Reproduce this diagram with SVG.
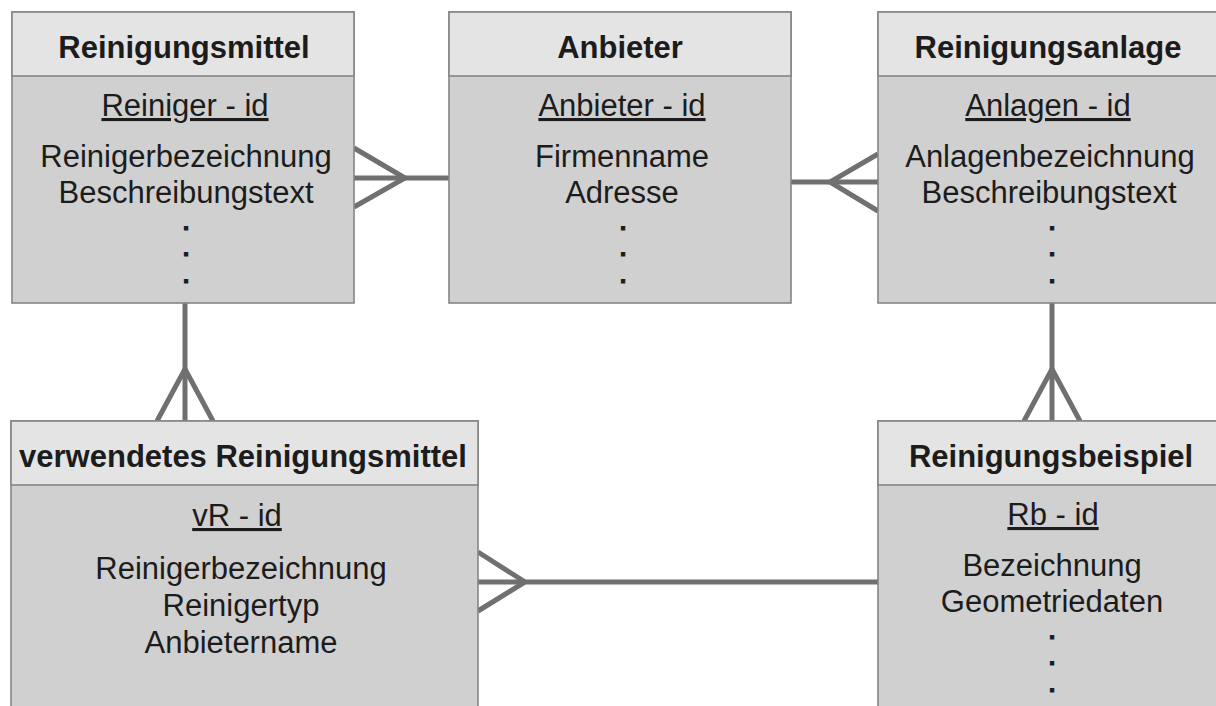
<svg xmlns="http://www.w3.org/2000/svg" width="1216" height="706" viewBox="0 0 1216 706">
  <style>
    .frame { fill: #d0d0d0; stroke: #858585; stroke-width: 1.6; }
    .head { fill: #e4e4e4; stroke: #858585; stroke-width: 1.6; }
    .title { font-family: "Liberation Sans", Arial, sans-serif; font-size: 31px; font-weight: bold; fill: #1c1c1c; text-anchor: middle; }
    .attr { font-family: "Liberation Sans", Arial, sans-serif; font-size: 31px; fill: #1c1c1c; text-anchor: middle; }
    .key { text-decoration: underline; }
    /* ellipsis dots: small bold period, thickened with a stroke */
    .dot { font-family: "Liberation Sans", Arial, sans-serif; font-size: 22px; font-weight: bold; fill: #1c1c1c; stroke: #1c1c1c; stroke-width: 1.2; text-anchor: middle; }
    .rel { stroke: #707070; stroke-width: 5; fill: none; }
  </style>

  <rect width="1216" height="706" fill="#ffffff"/>

  <!-- relationships (crow's foot = many side) -->
  <g id="connectors">
    <line class="rel" x1="354" y1="178" x2="449" y2="178"/>
    <polyline class="rel" points="354,148 405,178 354,207"/>

    <line class="rel" x1="791" y1="182" x2="878" y2="182"/>
    <polyline class="rel" points="878,154 830,182 878,211"/>

    <line class="rel" x1="185" y1="303" x2="185" y2="421"/>
    <polyline class="rel" points="157,421 185,369 213,421"/>

    <line class="rel" x1="1052" y1="303" x2="1052" y2="421"/>
    <polyline class="rel" points="1024,421 1052,369 1080,421"/>

    <line class="rel" x1="478" y1="582" x2="878" y2="582"/>
    <polyline class="rel" points="478,552 525,582 478,611"/>
  </g>

  <g id="reinigungsmittel">
    <rect class="frame" x="12" y="12" width="342" height="291"/>
    <rect class="head" x="12" y="12" width="342" height="64"/>
    <text class="title" x="184" y="58">Reinigungsmittel</text>
    <text class="attr key" x="185" y="116">Reiniger - id</text>
    <text class="attr" x="186" y="167">Reinigerbezeichnung</text>
    <text class="attr" x="186" y="203">Beschreibungstext</text>
    <text class="dot" x="186" y="230">.<tspan x="186" dy="26">.</tspan><tspan x="186" dy="27">.</tspan></text>
  </g>

  <g id="anbieter">
    <rect class="frame" x="449" y="12" width="342" height="291"/>
    <rect class="head" x="449" y="12" width="342" height="64"/>
    <text class="title" x="620" y="58">Anbieter</text>
    <text class="attr key" x="622" y="116">Anbieter - id</text>
    <text class="attr" x="622" y="167">Firmenname</text>
    <text class="attr" x="622" y="203">Adresse</text>
    <text class="dot" x="623" y="230">.<tspan x="623" dy="26">.</tspan><tspan x="623" dy="27">.</tspan></text>
  </g>

  <g id="reinigungsanlage">
    <rect class="frame" x="878" y="12" width="344" height="291"/>
    <rect class="head" x="878" y="12" width="344" height="64"/>
    <text class="title" x="1048" y="58">Reinigungsanlage</text>
    <text class="attr key" x="1048" y="116">Anlagen - id</text>
    <text class="attr" x="1050" y="167">Anlagenbezeichnung</text>
    <text class="attr" x="1049" y="203">Beschreibungstext</text>
    <text class="dot" x="1052" y="230">.<tspan x="1052" dy="26">.</tspan><tspan x="1052" dy="27">.</tspan></text>
  </g>

  <g id="verwendetes-reinigungsmittel">
    <rect class="frame" x="11" y="421" width="467" height="300"/>
    <rect class="head" x="11" y="421" width="467" height="64"/>
    <text class="title" x="243" y="467">verwendetes Reinigungsmittel</text>
    <text class="attr key" x="237" y="526">vR - id</text>
    <text class="attr" x="241" y="579">Reinigerbezeichnung</text>
    <text class="attr" x="241" y="616">Reinigertyp</text>
    <text class="attr" x="241" y="653">Anbietername</text>
  </g>

  <g id="reinigungsbeispiel">
    <rect class="frame" x="878" y="421" width="346" height="300"/>
    <rect class="head" x="878" y="421" width="346" height="64"/>
    <text class="title" x="1051" y="467">Reinigungsbeispiel</text>
    <text class="attr key" x="1053" y="525">Rb - id</text>
    <text class="attr" x="1052" y="576">Bezeichnung</text>
    <text class="attr" x="1052" y="612">Geometriedaten</text>
    <text class="dot" x="1052" y="639">.<tspan x="1052" dy="26">.</tspan><tspan x="1052" dy="27">.</tspan></text>
  </g>
</svg>
